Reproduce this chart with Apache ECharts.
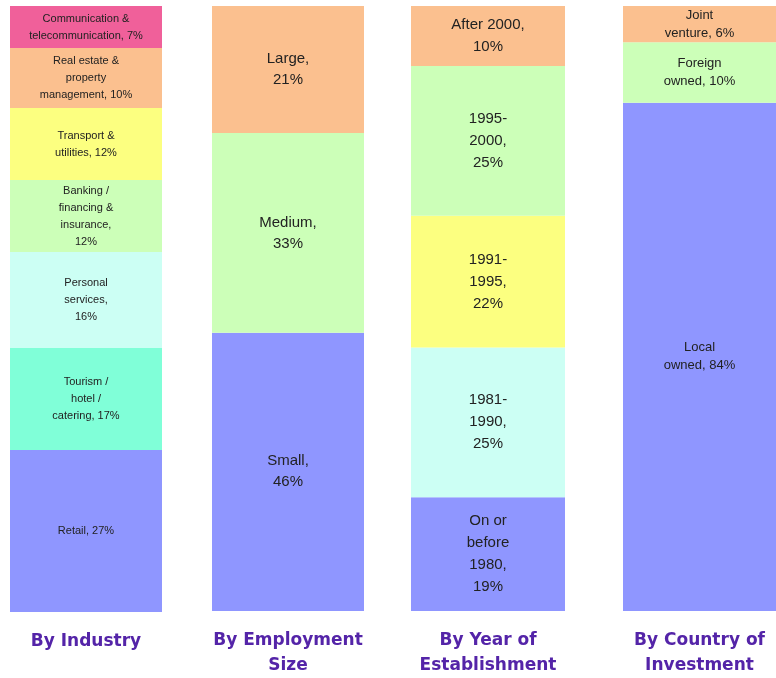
<!DOCTYPE html>
<html>
<head>
<meta charset="utf-8">
<script src="https://cdn.jsdelivr.net/npm/echarts@6/dist/echarts.min.js"></script>
<style>
  html, body { margin: 0; padding: 0; background: #ffffff; }
  #chart { width: 776px; height: 678px; }
</style>
</head>
<body>
<div id="chart"></div>
<script>
// column titles (shown under each column)
const categories = ['By Industry', 'By Employment\nSize', 'By Year of\nEstablishment', 'By Country of\nInvestment'];

// segments listed bottom to top, {c} is replaced by the value
const industryLabels = ['Retail, {c}%', 'Tourism /\nhotel /\ncatering, {c}%', 'Personal\nservices,\n{c}%',
  'Banking /\nfinancing &\ninsurance,\n{c}%', 'Transport &\nutilities, {c}%',
  'Real estate &\nproperty\nmanagement, {c}%', 'Communication &\ntelecommunication, {c}%'];
const industryValues = [27, 17, 16, 12, 12, 10, 7];

const sizeLabels = ['Small,\n{c}%', 'Medium,\n{c}%', 'Large,\n{c}%'];
const sizeValues = [46, 33, 21];

const yearLabels = ['On or\nbefore\n1980,\n{c}%', '1981-\n1990,\n{c}%', '1991-\n1995,\n{c}%', '1995-\n2000,\n{c}%', 'After 2000,\n{c}%'];
const yearValues = [19, 25, 22, 25, 10];

const countryLabels = ['Local\nowned, {c}%', 'Foreign\nowned, {c}%', 'Joint\nventure, {c}%'];
const countryValues = [84, 10, 6];

const BLUE = '#8f96ff', TEAL = '#80ffd8', CYAN = '#ccfff4', GREEN = '#ccffb8',
      YELLOW = '#fcff80', PEACH = '#fbc08f', PINK = '#f0609a';

const columns = [
  { labels: industryLabels, values: industryValues, colors: [BLUE, TEAL, CYAN, GREEN, YELLOW, PEACH, PINK], font: 11, lh: 17 },
  { labels: sizeLabels, values: sizeValues, colors: [BLUE, GREEN, PEACH], font: 15, lh: 21 },
  { labels: yearLabels, values: yearValues, colors: [BLUE, CYAN, YELLOW, GREEN, PEACH], font: 15, lh: 22 },
  { labels: countryLabels, values: countryValues, colors: [BLUE, GREEN, PEACH], font: 13, lh: 18 }
];

const gridLeft = [10, 212, 411, 623];
const gridWidth = [152, 152, 154, 153];

const grid = [], xAxis = [], yAxis = [], series = [];
columns.forEach((col, i) => {
  grid.push({ left: gridLeft[i], width: gridWidth[i], top: 6, bottom: 66 });
  xAxis.push({
    type: 'category',
    gridIndex: i,
    data: [categories[i]],
    axisLine: { show: false },
    axisTick: { show: false },
    axisLabel: {
      color: '#5424a8',
      fontFamily: 'DejaVu Sans',
      fontWeight: 'bold',
      fontSize: 17,
      lineHeight: 25,
      margin: 17,
      interval: 0
    }
  });
  yAxis.push({
    type: 'value',
    gridIndex: i,
    min: 0,
    max: col.values.reduce((a, b) => a + b, 0),
    show: false
  });
  col.values.forEach((v, j) => {
    series.push({
      type: 'bar',
      xAxisIndex: i,
      yAxisIndex: i,
      stack: 'col' + i,
      barWidth: '100%',
      data: [v],
      itemStyle: { color: col.colors[j] },
      label: {
        show: true,
        position: 'inside',
        formatter: col.labels[j],
        color: '#222',
        fontFamily: 'Liberation Sans',
        fontSize: col.font,
        lineHeight: col.lh
      },
      emphasis: { disabled: true }
    });
  });
});

const chart = echarts.init(document.getElementById('chart'));
chart.setOption({
  backgroundColor: '#ffffff',
  animation: false,
  grid: grid,
  xAxis: xAxis,
  yAxis: yAxis,
  series: series
});
</script>
</body>
</html>
